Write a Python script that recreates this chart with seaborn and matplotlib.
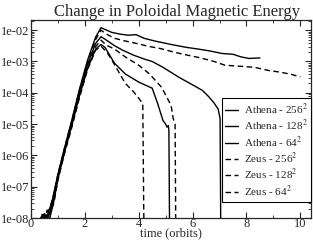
import math
import matplotlib
matplotlib.use("Agg")
import matplotlib.pyplot as plt
import matplotlib.ticker as mticker
import seaborn as sns
import pandas as pd

# values
rise_t = [0.4, 0.5, 0.6, 0.7, 0.85, 1.0, 1.25, 1.5, 1.8, 2.1, 2.4]

athena256_t = [0.35, 0.45, 0.55, 0.65, 0.8, 1.0, 1.25, 1.5, 1.8, 2.1, 2.4, 2.6, 2.75, 3.0, 3.3, 3.6, 3.9,
               4.2, 4.6, 5.0, 5.35, 5.8, 6.2, 6.6, 7.1, 7.5, 7.8, 8.1, 8.5]
athena256_v = [1e-8, 1.3e-8, 1.1e-8, 1.5e-8, 4e-8, 2.5e-7, 1.8e-6, 1.2e-5, 1.3e-4, 1.1e-3, 6e-3, 1.2e-2,
               1.05e-2, 8.5e-3, 7.5e-3, 6.9e-3, 7.2e-3, 5.5e-3, 4.5e-3, 3.8e-3, 3.3e-3, 2.8e-3, 2.5e-3,
               2.2e-3, 1.8e-3, 1.7e-3, 1.4e-3, 1.25e-3, 1.3e-3]

zeus256_t = [0.4, 0.5, 0.6, 0.7, 0.85, 1.0, 1.25, 1.5, 1.8, 2.1, 2.4, 2.6, 2.8, 3.1, 3.5, 3.9, 4.4, 4.8,
             5.3, 5.8, 6.3, 6.8, 7.2, 7.8, 8.3, 8.8, 9.3, 9.7, 10.0]
zeus256_v = [1.2e-8, 1e-8, 1.6e-8, 2e-8, 6e-8, 2.5e-7, 1.8e-6, 1.1e-5, 1.2e-4, 1e-3, 5e-3, 1e-2, 7.5e-3,
             5.5e-3, 4.5e-3, 3.8e-3, 3e-3, 2.6e-3, 2e-3, 1.6e-3, 1.3e-3, 1e-3, 7.6e-4, 7e-4, 6.5e-4,
             5.2e-4, 4.5e-4, 3.8e-4, 3.2e-4]

athena128_t = rise_t + [2.6, 2.8, 3.1, 3.4, 3.8, 4.2, 4.5, 4.9, 5.2, 5.5, 5.9, 6.36, 6.6, 6.8, 6.95,
                        7.02, 7.05]
athena128_v = [1e-8, 1.4e-8, 1e-8, 1.5e-8, 5e-8, 2.2e-7, 1.6e-6, 1e-5, 1e-4, 8e-4, 3.8e-3, 6.2e-3,
               4.8e-3, 3.2e-3, 2.3e-3, 1.6e-3, 1.2e-3, 1e-3, 6.5e-4, 4.5e-4, 3.1e-4, 2e-4, 1.2e-4,
               7.5e-5, 4.7e-5, 3e-5, 1.5e-5, 1e-9]

zeus128_t = rise_t + [2.6, 2.8, 3.1, 3.5, 4.0, 4.4, 4.85, 5.05, 5.2, 5.28, 5.35, 5.38]
zeus128_v = [1.1e-8, 1e-8, 1.8e-8, 1.3e-8, 4.5e-8, 2e-7, 1.5e-6, 9e-6, 9e-5, 7e-4, 3e-3, 4.8e-3,
             3.3e-3, 2.5e-3, 1.4e-3, 7.6e-4, 4e-4, 1.5e-4, 7e-5, 4e-5, 1.5e-5, 1e-5, 1e-9]

athena64_t = rise_t + [2.6, 2.75, 3.1, 3.5, 4.0, 4.5, 4.7, 4.9, 5.0, 5.05, 5.1, 5.12, 5.15]
athena64_v = [1.3e-8, 1e-8, 1.2e-8, 1e-8, 3.5e-8, 1.8e-7, 1.3e-6, 8e-6, 8e-5, 6e-4, 2.5e-3, 3.5e-3,
              2.8e-3, 8.8e-4, 4e-4, 2.2e-4, 1.4e-4, 4.6e-5, 1.3e-5, 1e-5, 8e-6, 9e-6, 6e-6, 1e-9]

zeus64_t = rise_t + [2.6, 2.85, 3.1, 3.5, 3.8, 4.0, 4.15, 4.2]
zeus64_v = [1e-8, 1.2e-8, 1e-8, 1.4e-8, 3e-8, 1.6e-7, 1.2e-6, 7e-6, 7e-5, 5.5e-4, 2.3e-3, 3.1e-3,
            1.8e-3, 8e-4, 2e-4, 1.1e-4, 6.7e-5, 4.5e-5, 1e-9]

labels = ["Athena - 256$^2$", "Athena - 128$^2$", "Athena - 64$^2$",
          "Zeus - 256$^2$", "Zeus - 128$^2$", "Zeus - 64$^2$"]
series_t = [athena256_t, athena128_t, athena64_t, zeus256_t, zeus128_t, zeus64_t]
series_v = [athena256_v, athena128_v, athena64_v, zeus256_v, zeus128_v, zeus64_v]

sns.set_style("ticks")
plt.rcParams['font.family'] = ['Liberation Serif', 'DejaVu Serif']
plt.rcParams['mathtext.fontset'] = 'stix'

fig = plt.figure(figsize=(3.13, 2.42), dpi=100)
ax = fig.add_axes([0.099, 0.099, 0.895, 0.818])

for lab, t, v in zip(labels, series_t, series_v):
    df = pd.DataFrame({"t": t, "v": v})
    ls = "-" if lab.startswith("Athena") else (0, (4, 2.5))
    sns.lineplot(data=df, x="t", y="v", ax=ax, color="black", lw=1.0, linestyle=ls,
                 sort=False, estimator=None, label=lab)

ax.set_yscale("log")
ax.set_xlim(0, 10.4)
ax.set_ylim(1e-8, 2.1e-2)
ax.set_xticks([0, 2, 4, 6, 8, 10])
ax.xaxis.set_minor_locator(mticker.MultipleLocator(1))
ax.yaxis.set_major_locator(mticker.LogLocator(base=10, numticks=12))
ax.yaxis.set_minor_locator(mticker.LogLocator(base=10, subs=range(2, 10), numticks=12))
ax.yaxis.set_minor_formatter(mticker.NullFormatter())
ax.yaxis.set_major_formatter(mticker.FuncFormatter(lambda y, p: "1e-%02d" % round(-math.log10(y))))
ax.tick_params(which="both", direction="in", top=True, right=True, labelsize=9, pad=1)
ax.tick_params(axis="x", pad=0)
ax.tick_params(which="major", length=4, width=0.8)
ax.tick_params(which="minor", length=2, width=0.6)
for s in ax.spines.values():
    s.set_linewidth(0.9)

ax.set_title("Change in Poloidal Magnetic Energy", fontsize=12, pad=3, x=0.52)
ax.set_xlabel("time (orbits)", fontsize=9, labelpad=-2)
ax.set_ylabel("")

leg = ax.legend(loc="lower right", bbox_to_anchor=(1.0, 0.08), borderaxespad=0, fontsize=8,
                handlelength=1.2, handletextpad=0.5, labelspacing=0.12, borderpad=0.3,
                fancybox=False, framealpha=1, edgecolor="black")
leg.get_frame().set_linewidth(0.8)

fig.savefig("out.png", dpi=100)
